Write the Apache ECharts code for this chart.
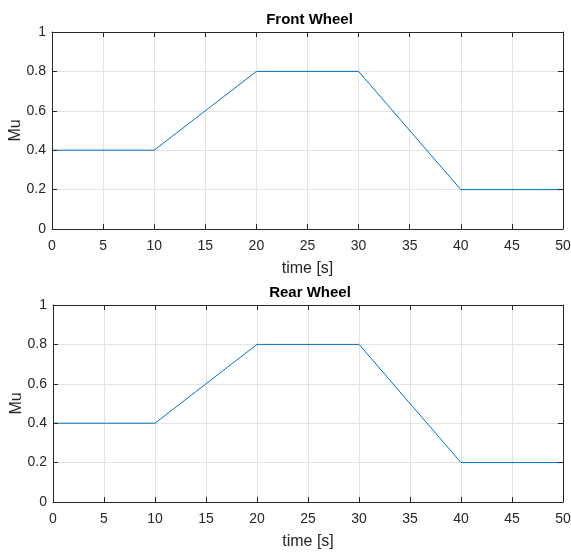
<!DOCTYPE html>
<html><head><meta charset="utf-8">
<script src="https://cdn.jsdelivr.net/npm/echarts@6/dist/echarts.min.js"></script>
<style>html,body{margin:0;padding:0;background:#fff}#c{width:571px;height:556px}</style>
</head><body><div id="c"></div>
<script>
var timeS = [0, 10, 20, 30, 40, 50];
var frontMu = [0.4, 0.4, 0.8, 0.8, 0.2, 0.2];
var rearMu = [0.4, 0.4, 0.8, 0.8, 0.2, 0.2];
var titles = ['Front Wheel', 'Rear Wheel'];
var FONT = '"Liberation Sans", Arial, Helvetica, sans-serif';
var AX = '#262626';
var GRID = '#e3e3e3';

function pairs(xs, ys){ return xs.map(function(x,i){return [x, ys[i]];}); }

var grids = [
  {left: 52, right: 8, top: 32, height: 197, outerBoundsMode: 'none', containLabel: false},
  {left: 53, right: 8, top: 305, height: 197, outerBoundsMode: 'none', containLabel: false}
];
function lineAx(){ return {show: true, onZero: false, lineStyle: {color: AX, width: 1}}; }
function tickAx(){ return {show: true, inside: true, length: 5, lineStyle: {color: AX, width: 1}}; }
var xAxes = [], yAxes = [], series = [], titleArr = [];
[frontMu, rearMu].forEach(function(ys, g){
  var gr = grids[g];
  titleArr.push({text: titles[g], left: gr.left + (571 - gr.left - gr.right)/2 - 3, textAlign: 'center',
    top: gr.top - 25, textStyle: {fontFamily: FONT, fontSize: 15, fontWeight: 'bold', color: '#000'}});
  xAxes.push({type: 'value', gridIndex: g, min: 0, max: 50, interval: 5, z: 0,
    axisLine: {show: false}, axisTick: {show: false}, axisLabel: {show: false},
    splitLine: {show: true, lineStyle: {color: GRID, width: 1}}});
  xAxes.push({type: 'value', gridIndex: g, min: 0, max: 50, interval: 5, position: 'bottom', z: 5,
    name: 'time [s]', nameLocation: 'middle', nameGap: 32, nameMoveOverlap: false,
    nameTextStyle: {fontFamily: FONT, fontSize: 16, color: AX},
    axisLine: lineAx(), axisTick: tickAx(),
    axisLabel: {fontFamily: FONT, fontSize: 14, color: AX, margin: 10},
    splitLine: {show: false}});
  xAxes.push({type: 'value', gridIndex: g, min: 0, max: 50, interval: 5, position: 'top', z: 5,
    axisLine: lineAx(), axisTick: tickAx(), axisLabel: {show: false}, splitLine: {show: false}});
  yAxes.push({type: 'value', gridIndex: g, min: 0, max: 1, interval: 0.2, z: 0,
    axisLine: {show: false}, axisTick: {show: false}, axisLabel: {show: false},
    splitLine: {show: true, lineStyle: {color: GRID, width: 1}}});
  yAxes.push({type: 'value', gridIndex: g, min: 0, max: 1, interval: 0.2, position: 'left', z: 5,
    name: 'Mu', nameLocation: 'middle', nameGap: 28, nameMoveOverlap: false,
    nameTextStyle: {fontFamily: FONT, fontSize: 16, color: AX},
    axisLine: lineAx(), axisTick: tickAx(),
    axisLabel: {fontFamily: FONT, fontSize: 14, color: AX, margin: 6,
      formatter: function(v){ return +v.toFixed(1) + ''; }},
    splitLine: {show: false}});
  yAxes.push({type: 'value', gridIndex: g, min: 0, max: 1, interval: 0.2, position: 'right', z: 5,
    axisLine: lineAx(), axisTick: tickAx(), axisLabel: {show: false}, splitLine: {show: false}});
  series.push({type: 'line', xAxisIndex: g*3, yAxisIndex: g*3, data: pairs(timeS, ys), z: 3,
    symbol: 'none', lineStyle: {color: '#0072BD', width: 1}, animation: false});
});

var chart = echarts.init(document.getElementById('c'), null, {renderer: 'canvas'});
chart.setOption({animation: false, title: titleArr, grid: grids, xAxis: xAxes, yAxis: yAxes, series: series});
</script></body></html>
